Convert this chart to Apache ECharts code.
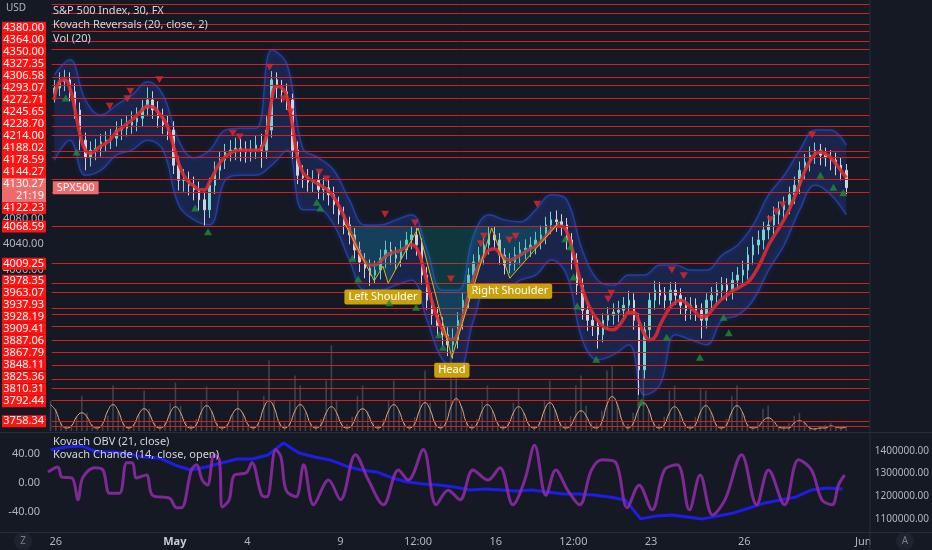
<!DOCTYPE html>
<html><head><meta charset="utf-8">
<script src="https://cdn.jsdelivr.net/npm/echarts@6/dist/echarts.min.js"></script>
<style>html,body{margin:0;padding:0;background:#151924}#c{width:932px;height:550px}</style>
</head><body><div id="c"></div>
<script>
// ---------- data ----------
const CAT_COUNT = 158;
const tickIndex = [1, 24, 38, 56, 71, 86, 101, 116, 134, 157];
const tickLabels = ['26', 'May', '4', '9', '12:00', '16', '12:00', '23', '26', 'Jun'];

const opens = [4280,4289,4299,4302,4283,4254,4206,4178,4190,4193,
 4203,4206,4209,4222,4225,4230,4235,4241,4257,4270,
 4254,4241,4230,4222,4166,4142,4142,4134,4127,4111,
 4095,4134,4158,4174,4187,4190,4193,4190,4187,4190,
 4198,4190,4222,4302,4289,4283,4270,4190,4150,4146,
 4139,4142,4127,4130,4119,4103,4087,4071,4055,4031,
 4012,4002,3991,3999,4018,4031,4023,4018,4031,4047,
 4055,4039,3991,3951,3927,3911,3896,3880,3888,3919,
 3951,3991,4012,4023,4039,4055,4047,4023,4007,4012,
 4023,4031,4034,4039,4047,4055,4071,4079,4076,4071,
 4047,4015,3975,3935,3919,3911,3896,3919,3927,3932,
 3935,3943,3951,3919,3840,3904,3951,3967,3959,3951,
 3967,3959,3943,3935,3943,3935,3919,3951,3959,3967,
 3975,3967,3983,3991,3999,4023,4039,4047,4063,4071,
 4087,4095,4103,4119,4134,4158,4171,4182,4190,4182,
 4178,4174,4166,4158];
const closes = [4289,4299,4302,4283,4254,4206,4178,4190,4193,4203,
 4206,4209,4222,4225,4230,4235,4241,4257,4270,4254,
 4241,4230,4222,4166,4142,4142,4134,4127,4111,4095,
 4134,4158,4174,4187,4190,4193,4190,4187,4190,4198,
 4190,4222,4302,4289,4283,4270,4190,4150,4146,4139,
 4142,4127,4130,4119,4103,4087,4071,4055,4031,4012,
 4002,3991,3999,4018,4031,4023,4018,4031,4047,4055,
 4039,3991,3951,3927,3911,3896,3880,3888,3919,3951,
 3991,4012,4023,4039,4055,4047,4023,4007,4012,4023,
 4031,4034,4039,4047,4055,4071,4079,4076,4071,4047,
 4015,3975,3935,3919,3911,3896,3919,3927,3932,3935,
 3943,3951,3919,3840,3904,3951,3967,3959,3951,3967,
 3959,3943,3935,3943,3935,3919,3951,3959,3967,3975,
 3967,3983,3991,3999,4023,4039,4047,4063,4071,4087,
 4095,4103,4119,4134,4158,4171,4182,4190,4182,4178,
 4174,4166,4158,4130.27];
const lows = [4266,4276,4284,4268,4240,4190,4158,4164,4174,4180,
 4188,4192,4196,4206,4212,4216,4220,4228,4244,4240,
 4226,4216,4206,4152,4126,4124,4118,4110,4094,4070,
 4082,4120,4144,4160,4172,4174,4172,4170,4172,4176,
 4162,4176,4210,4272,4266,4254,4176,4136,4130,4124,
 4122,4112,4110,4102,4088,4072,4056,4040,4016,3996,
 3986,3974,3978,3984,4002,4008,4000,4004,4016,4032,
 4022,3976,3936,3912,3894,3878,3862,3858,3874,3904,
 3938,3976,3998,4008,4024,4032,4008,3992,3994,3998,
 4008,4016,4020,4024,4032,4040,4056,4060,4054,4032,
 4000,3960,3920,3902,3894,3874,3884,3904,3912,3916,
 3920,3928,3904,3800,3826,3890,3936,3944,3936,3938,
 3944,3928,3918,3920,3918,3890,3906,3936,3944,3952,
 3950,3952,3968,3976,3984,4008,4024,4032,4048,4056,
 4072,4080,4088,4104,4120,4144,4156,4168,4166,4164,
 4158,4150,4142,4120];
const highs = [4302,4314,4318,4314,4296,4266,4218,4204,4208,4216,
 4220,4224,4236,4240,4246,4252,4258,4270,4290,4284,
 4268,4256,4246,4236,4180,4160,4156,4148,4140,4124,
 4146,4172,4188,4200,4206,4210,4208,4204,4206,4214,
 4216,4244,4316,4314,4302,4296,4280,4204,4166,4160,
 4158,4156,4146,4142,4132,4116,4100,4084,4066,4044,
 4026,4016,4014,4032,4046,4044,4036,4046,4060,4068,
 4066,4050,4004,3964,3940,3924,3908,3906,3932,3964,
 4002,4024,4036,4052,4068,4068,4058,4034,4026,4036,
 4044,4048,4052,4060,4070,4084,4092,4094,4088,4082,
 4058,4026,3986,3948,3932,3922,3930,3940,3946,3950,
 3956,3966,3962,3930,3916,3964,3982,3980,3972,3980,
 3980,3970,3956,3956,3954,3946,3962,3972,3980,3988,
 3986,3996,4004,4014,4036,4052,4062,4076,4086,4100,
 4108,4116,4132,4148,4172,4184,4196,4202,4200,4194,
 4190,4186,4178,4168];

const reversalMa = [4270,4299,4302,4289,4254,4214,4190,4185,4190,4197,
 4201,4209,4219,4225,4232,4238,4246,4254,4260,4259,
 4251,4241,4225,4198,4170,4150,4139,4133,4127,4127,
 4139,4155,4170,4179,4185,4189,4190,4190,4190,4190,
 4193,4214,4270,4292,4289,4273,4230,4178,4155,4146,
 4141,4136,4131,4125,4115,4101,4084,4064,4044,4026,
 4013,4007,4007,4013,4021,4026,4028,4031,4036,4039,
 4034,4012,3980,3948,3923,3904,3891,3888,3900,3927,
 3959,3986,4007,4021,4031,4033,4026,4018,4015,4018,
 4023,4028,4033,4037,4044,4053,4063,4069,4069,4060,
 4034,4002,3970,3947,3931,3919,3910,3905,3904,3910,
 3921,3932,3932,3916,3897,3888,3892,3911,3927,3940,
 3948,3951,3947,3939,3931,3924,3926,3935,3945,3953,
 3959,3966,3970,3975,3980,3990,4004,4021,4039,4053,
 4066,4080,4096,4115,4136,4157,4173,4184,4187,4184,
 4178,4168,4157,4146];

const sampleIdx = [0,3,6,9,12,15,18,21,24,27,30,33,36,39,42,45,48,51,54,57,60,63,66,69,72,75,
 78,81,84,87,90,93,96,99,102,105,108,111,114,117,120,123,126,129,132,135,138,141,144,147,150,153];
const bandUpper = [4310,4334,4270,4246,4262,4278,4299,4278,4206,4178,
 4190,4222,4225,4225,4350,4326,4193,4178,4158,4111,
 4071,4071,4079,4087,4031,3967,3967,4055,4087,4079,
 4076,4095,4119,4111,4031,3983,3975,3991,3991,4007,
 4007,3999,3999,4023,4039,4071,4119,4150,4190,4222,
 4222,4198];
const bandLower = [4174,4206,4150,4158,4182,4190,4206,4190,4103,4079,
 4071,4142,4150,4150,4166,4190,4095,4095,4071,4015,
 3967,3967,3975,3983,3919,3856,3840,3919,3975,3967,
 3983,3991,4015,3991,3888,3856,3864,3880,3800,3816,
 3896,3888,3880,3919,3927,3951,3999,4039,4095,4134,
 4119,4087];

const levelPrices = [4422,4408,4390,4380,4364,4350,4327.35,4306.58,4293.07,4272.71,4245.65,4228.70,
 4214,4188.02,4178.59,4144.27,4122.23,4068.59,4009.25,3978.35,3963.07,3937.93,3928.19,3909.41,
 3887.06,3867.79,3848.11,3825.36,3810.31,3792.44,3758.34,3750];
const unlabeledLevels = [4422,4408,4390,3750];
const priceScaleTicks = [4160,4120,4080,4040,4000];
const lastPrice = 4130.27;
const lastBarCountdown = '21:19';
const symbolName = 'SPX500';

const sellIdx = [10.7,14.1,14.7,20.3,34.5,35.8,41.6,44.3,45.6,51.2,52.6,63.9,69.7,76.6,82.4,83,87.9,89.1,93.3,107,107.6,119.3,121.6,138.3,139.5,140.7,146.4];
const sellPrice = [4260,4272,4284,4302,4217,4211,4322,4272,4251,4155,4144,4088,4074,3985,4041,4053,4047,4053,4104,3953,3962,3999,3990,4079,4092,4103,4214];
const buyIdx = [2.2,4.3,27.2,29.7,50.7,51.4,57.6,58.7,64.7,69.9,74.3,75.1,98.7,99.7,100.3,101,104.7,113.4,118.3,124.7,129.3,130.3,148,150.5,152.4];
const buyPrice = [4273,4187,4098,4060,4107,4098,4018,3985,3947,3940,3896,3876,4049,4036,3988,3942,3857,3789,3892,3860,3924,3899,4150,4131,4122];

const patternIdx = [56.2,61.8,63.5,64.5,70.3,76.8,84.5,88,97.6];
const patternPrice = [4072,3982,4005,3978,4066,3860,4066,3986,4076];
const necklinePrice = 4068.59;
const patternLabelNames = ['Left Shoulder', 'Head', 'Right Shoulder'];
const patternLabelIdx = [63.5, 76.8, 88];
const patternLabelPrice = [3977, 3860, 3986];

const volume = [30,22,8,5,6,14,35,18,7,5,
 6,15,45,20,8,5,7,16,40,22,
 8,6,10,28,48,25,9,6,12,30,
 44,20,8,5,7,16,40,18,7,5,
 8,35,70,30,10,8,30,55,45,18,
 8,6,12,50,85,30,9,7,14,35,
 45,20,9,6,12,30,50,20,8,6,
 14,40,60,28,10,8,30,75,55,25,
 9,7,12,30,45,20,8,6,10,28,
 42,18,7,5,10,30,50,22,9,8,
 15,45,55,25,10,8,20,60,65,28,
 10,7,18,80,60,22,9,7,14,40,
 45,20,8,6,14,42,40,18,7,5,
 12,35,45,18,7,5,10,22,25,10,
 5,4,8,15,18,8,4,3,4,6,
 8,4,3,5];
const volumeMa = [26,20,7,3,5,14, 18,14,5,3,7,20, 26,20,7,3,6,17, 22,17,6,3,6,18, 24,18,6,3,6,19,
 25,19,6,3,6,17, 22,17,6,3,8,23, 30,23,8,3,7,20, 26,20,7,3,6,18, 24,18,6,3,6,17,
 22,17,6,3,7,20, 26,20,7,3,7,21, 28,21,7,3,8,24, 32,24,8,3,7,20, 26,20,7,3,6,18,
 24,18,6,3,7,21, 28,21,7,3,5,15, 20,15,5,3,9,26, 34,26,9,3,7,21, 28,21,7,3,6,18,
 24,18,6,3,6,19, 25,19,6,3,6,19, 25,19,6,3,4,10, 13,10,4,3,3,8, 10,8,3,2,3,3,
 5,4,3,4];

const obv = [1404000,1417600,1422000,1395600,1395600,1386800,1373600,1369200,1338300,1316300,
 1329500,1347100,1364800,1364800,1382400,1435200,1391200,1373600,1360400,1333900,
 1316300,1307500,1281100,1263500,1254600,1250200,1241400,1228200,1232600,1228200,
 1223800,1228200,1219400,1210600,1210600,1206200,1197400,1184200,1100500,1113700,
 1118100,1109300,1100500,1113700,1126900,1148900,1170900,1184200,1197400,1228200,
 1237000,1232600];
const obvTicks = [1100000,1200000,1300000,1400000];

const chandeIdx = [-0.5,1.4,2.2,4.1,5.3,6.2,8.5,10.1,11.4,13.3,14.7,15.8,16.6,18.5,19.7,23,24.3,25.3,27.2,28.2,
 29.3,30.3,31.6,32.6,33.2,34.5,35.5,37.8,38.9,40.8,41.8,43.5,44.5,45.5,47.4,48.9,50.8,53.7,56,58.9,
 61.4,64.3,67.2,69.1,72,74.5,76.8,79.1,81.6,84.5,86.8,89.3,91.6,93.5,95.7,97.6,99.9,102.2,104.5,106.6,
 109.1,111.4,113.7,116.2,118.6,121.1,123.4,125.5,127.9,130.3,133.5,136.4,138.7,141.8,144.5,147,149,151,152.2,153.4];
const chande = [15,22,8,7,-23,7,21,18,-14,-14,28,28,7,11,-17,-21,-34,-34,18,25,
 4,-3,39,32,-33,-23,11,14,28,-17,-19,46,36,-10,-19,25,-30,4,-23,39,
 4,-30,18,4,46,-30,-10,-23,18,4,21,-30,4,52,-17,18,-10,-30,18,32,
 29,-34,-3,-37,18,25,-37,11,-44,-23,39,-30,18,-30,32,18,-23,-30,-3,11];
const chandeTicks = [-40, 0, 40];

// ---------- chart ----------
const BG = '#151924';
const FONT = 'Noto Sans';
const categories = Array.from({length: CAT_COUNT}, (_, i) => {
  const k = tickIndex.indexOf(i); return k >= 0 ? tickLabels[k] : '';
});
const candleData = opens.map((o, i) => [o, closes[i], lows[i], highs[i]]);
const pairs = (xs, ys) => xs.map((x, i) => [x, ys[i]]);
const labeledLevels = levelPrices.filter(v => !unlabeledLevels.includes(v));

const chart = echarts.init(document.getElementById('c'));
const GRID_W = 821.6;
const baseGraphic = [
  {type: 'line', z: 50, shape: {x1: 870, y1: 0, x2: 870, y2: 550}, style: {stroke: '#2a2e39', lineWidth: 1}},
  {type: 'line', z: 50, shape: {x1: 0, y1: 432.5, x2: 932, y2: 432.5}, style: {stroke: '#2a2e39', lineWidth: 1}},
  {type: 'line', z: 50, shape: {x1: 0, y1: 532.5, x2: 932, y2: 532.5}, style: {stroke: '#2a2e39', lineWidth: 1}},
  {type: 'rect', z: 49, shape: {x: 870.5, y: 533, width: 62, height: 17}, style: {fill: BG}},
  {type: 'text', z: 60, style: {text: 'USD', x: 6, y: 3, fill: '#b2b5be', font: '10px "Noto Sans"'}},
  {type: 'text', z: 60, style: {text: 'S&P 500 Index, 30, FX', x: 53, y: 5, fill: '#d1d4dc', font: '11px "Noto Sans"'}},
  {type: 'text', z: 60, style: {text: 'Kovach Reversals (20, close, 2)', x: 53, y: 19, fill: '#d1d4dc', font: '11px "Noto Sans"'}},
  {type: 'text', z: 60, style: {text: 'Vol (20)', x: 53, y: 33, fill: '#d1d4dc', font: '11px "Noto Sans"'}},
  {type: 'text', z: 60, style: {text: 'Kovach OBV (21, close)', x: 53, y: 436, fill: '#d1d4dc', font: '11px "Noto Sans"'}},
  {type: 'text', z: 60, style: {text: 'Kovach Chande (14, close, open)', x: 53, y: 449, fill: '#d1d4dc', font: '11px "Noto Sans"'}},
  {type: 'circle', z: 60, shape: {cx: 23, cy: 541, r: 9}, style: {fill: '#1f2330'}},
  {type: 'text', z: 61, style: {text: 'Z', x: 23, y: 541, fill: '#787b86', font: '10px "Noto Sans"', align: 'center', verticalAlign: 'middle'}},
  {type: 'circle', z: 60, shape: {cx: 905, cy: 541, r: 9}, style: {fill: '#1f2330'}},
  {type: 'text', z: 61, style: {text: 'A', x: 905, y: 541, fill: '#787b86', font: '10px "Noto Sans"', align: 'center', verticalAlign: 'middle'}}
];
const option = {
  backgroundColor: BG,
  animation: false,
  textStyle: {fontFamily: FONT},
  grid: [
    {left: 48, top: 0, width: GRID_W, height: 431},
    {left: 48, top: 330, width: GRID_W, height: 101},
    {left: 48, top: 432, width: GRID_W, height: 100}
  ],
  xAxis: [
    {type: 'category', gridIndex: 0, data: categories, show: false},
    {type: 'value', gridIndex: 0, min: -0.5, max: CAT_COUNT - 0.5, show: false},
    {type: 'category', gridIndex: 1, data: categories, show: false},
    {type: 'category', gridIndex: 2, data: categories, position: 'bottom',
      axisLine: {show: false}, axisTick: {show: false}, splitLine: {show: false},
      axisLabel: {interval: 0, color: '#b2b5be', fontSize: 11, margin: 4,
        formatter: v => v === 'May' ? '{b|May}' : v,
        rich: {b: {fontWeight: 'bold', color: '#c8cbd4', fontSize: 11}}}},
    {type: 'value', gridIndex: 2, min: -0.5, max: CAT_COUNT - 0.5, show: false}
  ],
  yAxis: [
    {type: 'value', gridIndex: 0, min: 3742.7, max: 4429.2, position: 'left',
      axisLine: {show: false}, axisTick: {show: false}, splitLine: {show: false},
      axisLabel: {customValues: priceScaleTicks, color: '#b2b5be', fontSize: 11, margin: 8,
        formatter: v => v.toFixed(2)}},
    {type: 'value', gridIndex: 1, min: 0, max: 100, show: false},
    {type: 'value', gridIndex: 2, min: -67.6, max: 70.3, position: 'left',
      axisLine: {show: false}, axisTick: {show: false}, splitLine: {show: false},
      axisLabel: {customValues: chandeTicks, color: '#b2b5be', fontSize: 11, margin: 8,
        formatter: v => v.toFixed(2)}},
    {type: 'value', gridIndex: 2, min: 1042700, max: 1483700, position: 'right',
      axisLine: {show: false}, axisTick: {show: false}, splitLine: {show: false},
      axisLabel: {customValues: obvTicks, color: '#b2b5be', fontSize: 10, margin: 9,
        formatter: v => v.toFixed(2)}}
  ],
  series: [
    {name: 'bandUpper', type: 'line', xAxisIndex: 1, yAxisIndex: 0, data: pairs(sampleIdx, bandUpper),
      smooth: 0.4, symbol: 'none', z: 1,
      lineStyle: {color: 'rgba(48,84,235,0.55)', width: 1.5, shadowColor: 'rgba(41,98,255,0.7)', shadowBlur: 5},
      areaStyle: {origin: 'start', color: 'rgba(36,58,140,0.55)'}},
    {name: 'bandLower', type: 'line', xAxisIndex: 1, yAxisIndex: 0, data: pairs(sampleIdx, bandLower),
      smooth: 0.4, symbol: 'none', z: 1,
      lineStyle: {color: 'rgba(48,84,235,0.55)', width: 1.5, shadowColor: 'rgba(41,98,255,0.7)', shadowBlur: 5},
      areaStyle: {origin: 'start', color: BG, opacity: 1}},
    {name: 'Vol', type: 'bar', xAxisIndex: 2, yAxisIndex: 1, data: volume, barWidth: 1.6, z: 2,
      itemStyle: {color: 'rgba(150,155,170,0.32)'}},
    {name: 'Vol MA', type: 'line', xAxisIndex: 2, yAxisIndex: 1, data: volumeMa, smooth: 0.5,
      symbol: 'none', z: 3, lineStyle: {color: '#e9a77a', width: 1}},
    {name: 'S&P 500', type: 'candlestick', xAxisIndex: 0, yAxisIndex: 0, data: candleData,
      barMaxWidth: 2, z: 3,
      itemStyle: {color: '#74d6d0', color0: '#cfd4dc', borderColor: '#74d6d0', borderColor0: '#cfd4dc', borderWidth: 1},
      markPoint: {symbol: 'circle', symbolSize: 1, itemStyle: {color: 'transparent'}, z: 12,
        data: [
          {coord: [0, lastPrice], label: {show: true, position: 'right', distance: -2,
            formatter: symbolName, color: '#fff', fontSize: 11, backgroundColor: '#ef6b6b', padding: [1, 4]}}
        ]}},
    {name: 'Kovach Reversals', type: 'line', xAxisIndex: 0, yAxisIndex: 0, data: reversalMa, smooth: 0.5,
      symbol: 'none', z: 4, lineStyle: {color: '#dd2a30', width: 3.5, opacity: 0.9}},
    {name: 'H&S', type: 'line', xAxisIndex: 1, yAxisIndex: 0, data: pairs(patternIdx, patternPrice),
      symbol: 'none', z: 5, lineStyle: {color: '#dcb516', width: 1},
      areaStyle: {origin: necklinePrice, color: 'rgba(0,160,150,0.32)'},
      markPoint: {symbol: 'circle', symbolSize: 1, itemStyle: {color: 'transparent'},
        data: patternLabelNames.map((n, i) => ({name: n, coord: [patternLabelIdx[i], patternLabelPrice[i]]})),
        label: {show: true, position: 'bottom', distance: 5, formatter: '{b}', color: '#fff', fontSize: 11,
          backgroundColor: '#c9a10c', padding: [2, 4], borderRadius: 2}}},
    {name: 'sell', type: 'scatter', xAxisIndex: 1, yAxisIndex: 0, data: pairs(sellIdx, sellPrice),
      symbol: 'triangle', symbolRotate: 180, symbolSize: [8, 7], z: 6, itemStyle: {color: '#e3262c'}},
    {name: 'buy', type: 'scatter', xAxisIndex: 1, yAxisIndex: 0, data: pairs(buyIdx, buyPrice),
      symbol: 'triangle', symbolSize: [8, 7], z: 6, itemStyle: {color: '#1c8f37'}},
    {name: 'levels', type: 'line', xAxisIndex: 0, yAxisIndex: 0, data: [], z: 10,
      markLine: {silent: true, symbol: ['none', 'none'], animation: false,
        lineStyle: {color: '#d91c1c', width: 1, type: 'solid'},
        label: {show: false},
        data: levelPrices.map(v => ({yAxis: v}))}},
    {name: 'Kovach OBV', type: 'line', xAxisIndex: 4, yAxisIndex: 3, data: pairs(sampleIdx, obv),
      symbol: 'none', z: 3, lineStyle: {color: '#1d1de8', width: 3}},
    {name: 'Kovach Chande', type: 'line', xAxisIndex: 4, yAxisIndex: 2, data: pairs(chandeIdx, chande),
      smooth: 0.35, symbol: 'none', z: 4, lineStyle: {color: '#8d2aa5', width: 3, opacity: 0.9}}
  ],
  graphic: baseGraphic
};
chart.setOption(option);

// ---- price-scale labels: placed at each level via the y axis, overlapping ones stacked ----
(function layoutScaleLabels() {
  const toY = v => chart.convertToPixel({yAxisIndex: 0}, v);
  const items = labeledLevels.map(v => ({text: v.toFixed(2), top: toY(v) - 6, h: 12, bg: '#ff1414'}));
  items.push({text: lastPrice.toFixed(2) + '\n' + lastBarCountdown, top: toY(lastPrice) - 6, h: 24, bg: '#ef6b6b'});
  items.sort((a, b) => a.top - b.top);
  let clusters = [];
  items.forEach(it => {
    let c = {items: [it], top: it.top, h: it.h};
    clusters.push(c);
    while (clusters.length > 1) {
      const prev = clusters[clusters.length - 2], cur = clusters[clusters.length - 1];
      if (prev.top + prev.h <= cur.top) break;
      const merged = {items: prev.items.concat(cur.items), h: prev.h + cur.h};
      let off = 0, sum = 0;
      merged.items.forEach(m => { sum += m.top - off; off += m.h; });
      merged.top = sum / merged.items.length;
      clusters.splice(clusters.length - 2, 2, merged);
    }
  });
  const labelGraphics = [];
  clusters.forEach(c => {
    let y = c.top;
    c.items.forEach(m => {
      labelGraphics.push({type: 'text', z: 70, silent: true, style: {
        text: m.text, x: 46, y: y + m.h / 2, align: 'right', verticalAlign: 'middle',
        fill: '#fff', font: '11px "Noto Sans"', lineHeight: 12, width: 40,
        backgroundColor: m.bg, padding: [0, 2]}});
      y += m.h;
    });
  });
  chart.setOption({graphic: baseGraphic.concat(labelGraphics)});
})();
</script>
</body></html>
